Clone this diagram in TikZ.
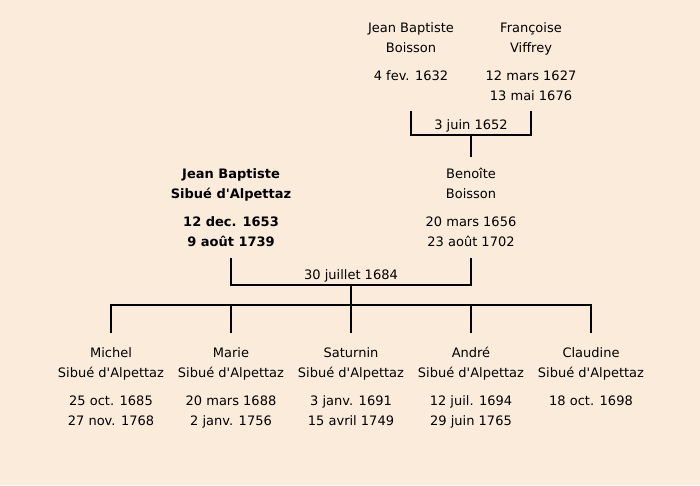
\documentclass[tikz,border=0pt]{standalone}
\usepackage{fontspec}
\setmainfont{DejaVu Sans}
\definecolor{paper}{RGB}{251,235,218}
\newcommand{\sibue}{Sibué d\textquotesingle Alpettaz}
\newcommand{\person}[7]{
	\node[txt] (#1) at (#2,#3) {#4};
	\node[txt] (#1-name) at (#2,#3+20) {#5};
	\node[txt] (#1-born) at (#2,#3+48) {#6};
	\node[txt] (#1-died) at (#2,#3+68) {#7};
}

\begin{document}
\begin{tikzpicture}[x=1pt,y=-1pt,
	txt/.style={anchor=base,inner sep=0pt,font=\fontsize{13}{15}\selectfont},
	link/.style={line width=2pt}]
	\fill[paper] (0,0) rectangle (700,485);
	\useasboundingbox (0,0) rectangle (700,485);

	% grandparents
	\person{jbb}{411}{32}{Jean Baptiste}{Boisson}{4 fev. 1632}{}
	\person{fv}{531}{32}{Françoise}{Viffrey}{12 mars 1627}{13 mai 1676}
	% parents
	\person{jbs}{231}{178}{\bfseries Jean Baptiste}{\bfseries \sibue}{\bfseries 12 dec. 1653}{\bfseries 9 août 1739}
	\person{bb}{471}{178}{Benoîte}{Boisson}{20 mars 1656}{23 août 1702}
	% children
	\person{mi}{111}{357}{Michel}{\sibue}{25 oct. 1685}{27 nov. 1768}
	\person{ma}{231}{357}{Marie}{\sibue}{20 mars 1688}{2 janv. 1756}
	\person{sa}{351}{357}{Saturnin}{\sibue}{3 janv. 1691}{15 avril 1749}
	\person{an}{471}{357}{André}{\sibue}{12 juil. 1694}{29 juin 1765}
	\person{cl}{591}{357}{Claudine}{\sibue}{18 oct. 1698}{}

	\coordinate (jbb-s) at (411,111);
	\coordinate (fv-s) at (531,111);
	\coordinate (u1) at (471,135);
	\coordinate (bb-n) at (471,157);
	\coordinate (jbs-s) at (231,258);
	\coordinate (bb-s) at (471,258);
	\coordinate (u2) at (351,285);
	\foreach \c/\x in {mi/111,ma/231,sa/351,an/471,cl/591}
		\coordinate (\c-n) at (\x,333);

	\draw[link] (jbb-s) |- (u1) -| (fv-s);
	\draw[link] (u1) -- (bb-n);
	\node[txt] (m1) at (471,129.5) {3 juin 1652};

	\draw[link] (jbs-s) |- (u2) -| (bb-s);
	\draw[link] (u2) -- (sa-n);
	\node[txt] (m2) at (351,279.5) {30 juillet 1684};

	\draw[link] (mi-n) -- ++(0,-28) -| (cl-n);
	\foreach \c in {ma,an}
		\draw[link] (\c-n) -- ++(0,-28);
\end{tikzpicture}
\end{document}
